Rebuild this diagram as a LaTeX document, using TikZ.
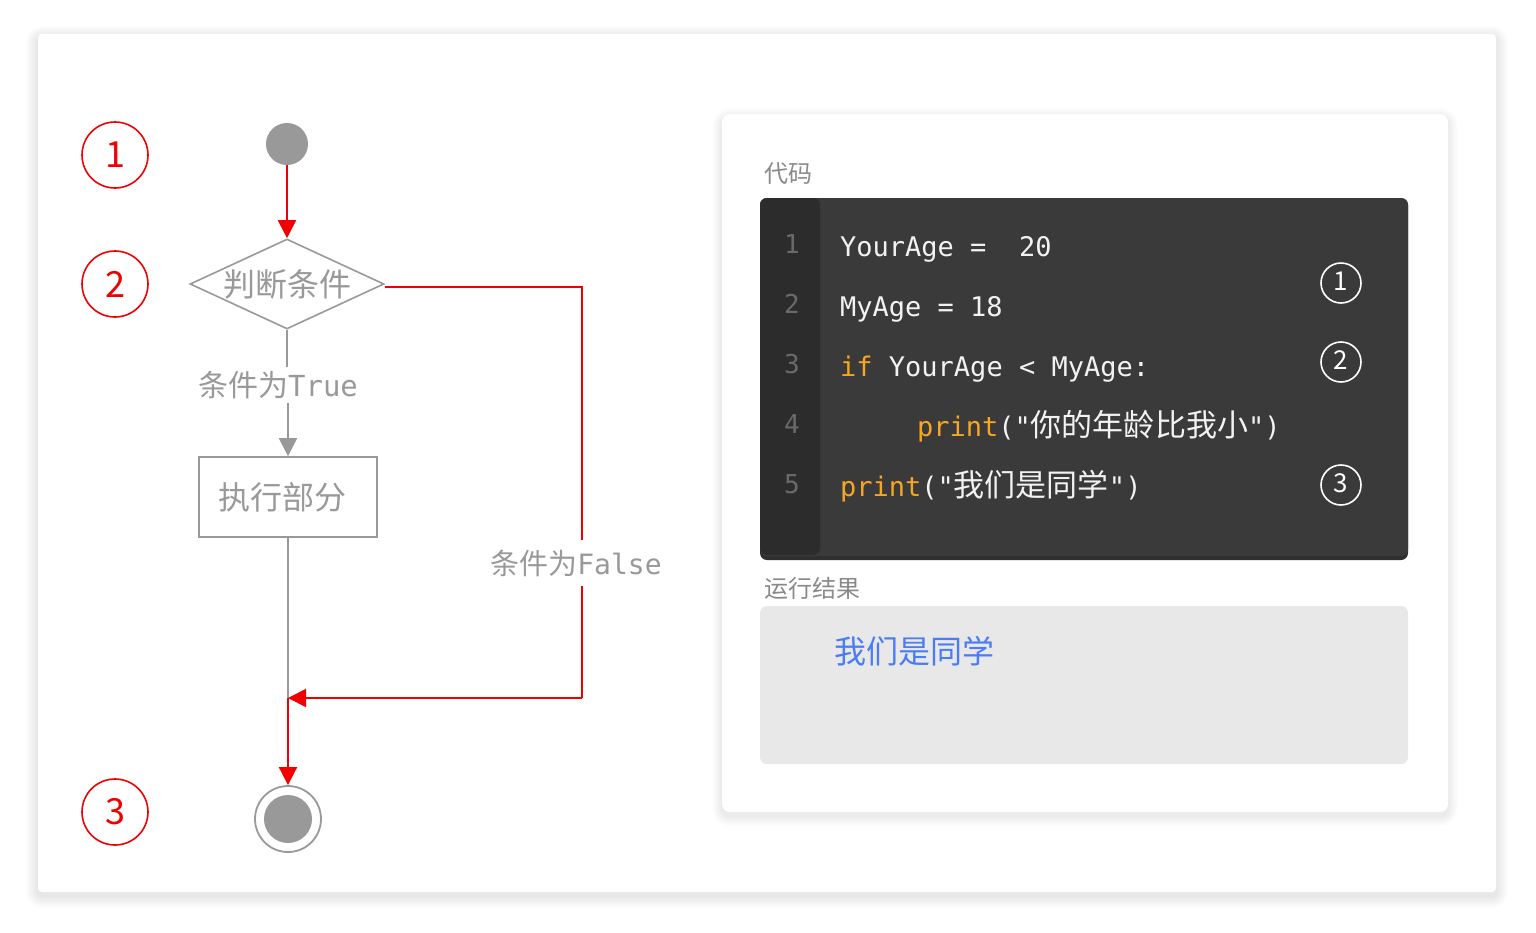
\documentclass[tikz,border=0pt]{standalone}
\usepackage{fontspec}
\setmainfont{Noto Sans CJK SC}
\setmonofont{DejaVu Sans Mono}
\newfontfamily\cjk{Noto Sans CJK SC}
\usetikzlibrary{arrows.meta,shapes.geometric}
\definecolor{fred}{HTML}{F00000}
\definecolor{fgray}{HTML}{999999}
\definecolor{lblgray}{HTML}{8A8A8A}
\definecolor{codebg}{HTML}{3A3A3A}
\definecolor{codebot}{HTML}{2F2F2F}
\definecolor{gutterbg}{HTML}{2C2C2C}
\definecolor{lnum}{HTML}{6A6A6A}
\definecolor{kw}{HTML}{F5A623}
\definecolor{codetext}{HTML}{F2F2F2}
\definecolor{resbg}{HTML}{E8E8E8}
\definecolor{resblue}{HTML}{4A7DF5}
\newcommand{\fs}[1]{\fontsize{#1}{#1}\selectfont}
\begin{document}
\begin{tikzpicture}[x=1pt,y=-1pt,
  redc/.style={circle,draw=fred,line width=1.6pt,minimum size=66pt,inner sep=0pt,text=fred,font=\fs{36}},
  startc/.style={circle,fill=fgray,minimum size=42pt,inner sep=0pt},
  endc/.style={circle,draw=fgray,line width=1.8pt,minimum size=66pt,inner sep=0pt},
  decision/.style={diamond,draw=fgray,line width=1.6pt,aspect=2.15,inner sep=0pt,minimum width=194pt,minimum height=90pt,text=fgray,font=\fs{32}},
  proc/.style={rectangle,draw=fgray,line width=1.6pt,minimum width=178pt,minimum height=80pt,text=fgray,font=\fs{32}},
  flbl/.style={text=fgray,font=\fs{30},inner sep=4pt},
  redln/.style={draw=fred,line width=1.8pt},
  redarrow/.style={draw=fred,line width=1.8pt,-{Triangle[length=18pt,width=18pt]}},
  grayln/.style={draw=fgray,line width=1.8pt},
  grayarrow/.style={draw=fgray,line width=1.8pt,-{Triangle[length=18pt,width=18pt]}},
  seclbl/.style={anchor=west,text=lblgray,font=\fs{24},inner sep=0pt},
  codeln/.style={anchor=base west,text=codetext,font=\ttfamily\fs{27},inner sep=0pt},
  numln/.style={anchor=base,text=lnum,font=\ttfamily\fs{26},inner sep=0pt},
  keyc/.style={circle,draw=white,line width=1.6pt,minimum size=40pt,inner sep=0pt,text=white,font=\fs{26}}
]
\useasboundingbox (0,0) rectangle (1536,932);
\fill[white] (0,0) rectangle (1536,932);
% outer card shadow
\foreach \i in {1,...,12}{
  \fill[black,opacity=0.007,rounded corners=4+\i] (38-\i,34-\i+4) rectangle (1496+\i,892+\i+4);
}
\fill[white,rounded corners=4] (38,34) rectangle (1496,892);

% ---------- left flowchart ----------
\node[redc] (n1) at (115,155) {1};
\node[redc] (n2) at (115,284) {2};
\node[redc] (n3) at (115,812) {3};

\node[startc] (start) at (287,144) {};
\node[decision] (dec) at (287,284) {判断条件};
\node[flbl] (truel) at (278,385) {条件为{\ttfamily\fs{29}True}};
\node[proc] (box) at (288,497) {\hspace*{-12pt}执行部分};
\node[endc] (end) at (288,819) {};
\fill[fgray] (end.center) circle (24);

\coordinate (m) at (288,698);
\coordinate (fr) at (582,287);
\coordinate (fb) at (582,698);

\draw[redarrow] (start) -- (dec.north);
\draw[grayln] (dec.south) -- (dec.south |- truel.north);
\draw[grayarrow] (box.north |- truel.south) -- (box.north);
\draw[grayln] (box.south) -- (m);
\draw[redarrow] (m) -- (end.north);
\draw[redln] (dec.east |- fr) -- (fr) -- (fb);
\draw[redarrow] (fb) -- (m);
\node[flbl,fill=white,inner xsep=0pt,inner ysep=10pt,font=\fs{29}] (falsel) at (576,563) {条件为{\ttfamily\fs{28}False}};

% ---------- right panel ----------
\foreach \i in {1,...,10}{
  \fill[black,opacity=0.008,rounded corners=8+\i] (722-\i,114-\i+4) rectangle (1448+\i,812+\i+4);
}
\fill[white,rounded corners=8] (722,114) rectangle (1448,812);

\node[seclbl] (codelbl) at (764,174) {代码};
\fill[codebot,rounded corners=7] (760,198) rectangle (1408,560);
\fill[codebg,rounded corners=7] (760,198) rectangle (1408,556);
\fill[gutterbg,rounded corners=7] (760,198) rectangle (820,555);

\node[numln] (l1) at (792,253) {1};
\node[numln] (l2) at (792,313) {2};
\node[numln] (l3) at (792,373) {3};
\node[numln] (l4) at (792,433) {4};
\node[numln] (l5) at (792,493) {5};

\node[codeln] (c1) at (840,256) {YourAge =\ \ 20};
\node[codeln] (c2) at (840,316) {MyAge = 18};
\node[codeln] (c3) at (840,376) {\textcolor{kw}{if} YourAge < MyAge:};
\node[codeln] (c4) at (917,436) {\textcolor{kw}{print}("{\cjk\fs{31}你的年龄比我小}")};
\node[codeln] (c5) at (840,496) {\textcolor{kw}{print}("{\cjk\fs{31}我们是同学}")};

\node[keyc] (k1) at (1341,283) {\raisebox{3pt}{1}};
\node[keyc] (k2) at (1341,362) {\raisebox{3pt}{2}};
\node[keyc] (k3) at (1341,485) {\raisebox{3pt}{3}};

\node[seclbl] (reslbl) at (764,588) {运行结果};
\fill[resbg,rounded corners=7] (760,606) rectangle (1408,764);
\node[anchor=west,text=resblue,font=\fs{32},inner sep=0pt] (res) at (834,651) {我们是同学};
\end{tikzpicture}
\end{document}
